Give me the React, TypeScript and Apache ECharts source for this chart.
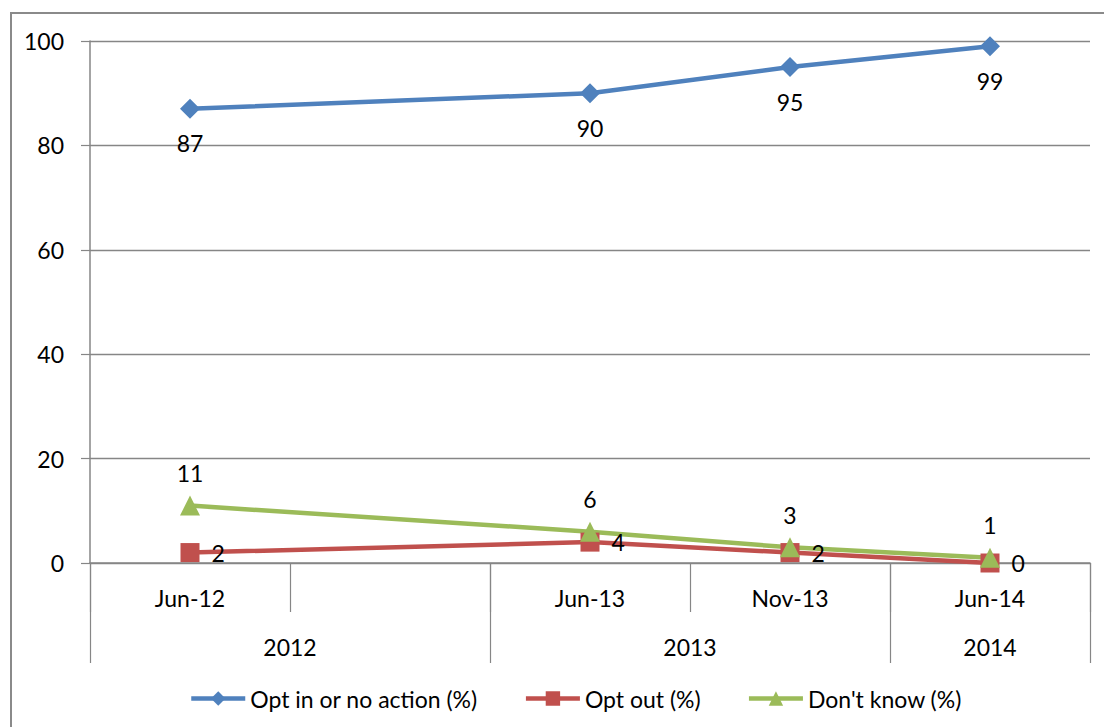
import React, { useEffect, useRef } from "react";
import * as echarts from "echarts";

const months = ["Jun-12", "", "Jun-13", "Nov-13", "Jun-14"];
const yearSlots = ["", "", "2012", "", "", "", "2013", "", "", "2014", ""];
const yearTickIdx = [0, 4, 8, 10];
const optIn = [87, null, 90, 95, 99];
const optOut = [2, null, 4, 2, 0];
const dontKnow = [11, null, 6, 3, 1];
const seriesNames = ["Opt in or no action (%)", "Opt out (%)", "Don't know (%)"];
const yTicks = { min: 0, max: 100, interval: 20 };

const FONT = "Lato, 'Open Sans', sans-serif";
const GRAY = "#868686";
const FS = 23;

export default function App() {
  const ref = useRef<HTMLDivElement>(null);
  useEffect(() => {
    const chart = echarts.init(ref.current!, null, { renderer: "svg" });
    const lineSeries = (name: string, data: any[], color: string, symbol: string, size: number, pos: string, dist: number) => ({
      name,
      type: "line",
      data,
      connectNulls: true,
      symbol,
      symbolSize: size,
      showAllSymbol: true,
      lineStyle: { color, width: 4.5 },
      itemStyle: { color },
      label: {
        show: true,
        position: pos,
        distance: dist,
        color: "#000",
        fontSize: FS,
        fontFamily: FONT,
      },
    });
    chart.setOption({
      animation: false,
      textStyle: { fontFamily: FONT },
      graphic: [
        {
          type: "rect",
          shape: { x: 11, y: 13, width: 1110, height: 730 },
          style: { fill: "none", stroke: "#8a8a8a", lineWidth: 2 },
          silent: true,
        },
      ],
      grid: { left: 90, right: 14, top: 41, bottom: 164, containLabel: false },
      legend: {
        bottom: 12,
        left: 184,
        itemWidth: 54,
        itemHeight: 18,
        itemGap: 46,
        lineStyle: { width: 4.5 },
        textStyle: { fontSize: FS, color: "#000", fontFamily: FONT },
        data: seriesNames,
      },
      xAxis: [
        {
          type: "category",
          data: months,
          boundaryGap: true,
          axisLine: { show: true, lineStyle: { color: GRAY, width: 1.5 } },
          axisTick: { show: true, length: 49, interval: 0, lineStyle: { color: GRAY, width: 1.2 } },
          axisLabel: { interval: 0, margin: 23, fontSize: FS, color: "#000", fontFamily: FONT },
          splitLine: { show: false },
        },
        {
          type: "category",
          data: yearSlots,
          boundaryGap: false,
          position: "bottom",
          axisLine: { show: false },
          axisTick: {
            show: true,
            length: 100,
            interval: (i: number) => yearTickIdx.includes(i),
            lineStyle: { color: GRAY, width: 1.2 },
          },
          axisLabel: {
            interval: (_i: number, v: string) => v !== "",
            margin: 72,
            fontSize: FS,
            color: "#000",
            fontFamily: FONT,
          },
          splitLine: { show: false },
        },
      ],
      yAxis: {
        type: "value",
        min: yTicks.min,
        max: yTicks.max,
        interval: yTicks.interval,
        axisLine: { show: true, lineStyle: { color: GRAY, width: 1.5 } },
        axisTick: { show: true, length: 9, lineStyle: { color: GRAY, width: 1.2 } },
        axisLabel: { margin: 26, fontSize: FS, color: "#000", fontFamily: FONT },
        splitLine: { show: true, lineStyle: { color: GRAY, width: 1.3 } },
      },
      series: [
        lineSeries(seriesNames[0], optIn, "#4F81BD", "diamond", 20, "bottom", 13),
        lineSeries(seriesNames[1], optOut, "#C0504D", "rect", 19, "right", 12),
        lineSeries(seriesNames[2], dontKnow, "#9BBB59", "triangle", 20, "top", 11),
      ],
    });
    return () => chart.dispose();
  }, []);
  return (
    <div
      ref={ref}
      style={{ position: "fixed", left: 0, top: 0, width: 1104, height: 727, background: "#fff" }}
    />
  );
}
